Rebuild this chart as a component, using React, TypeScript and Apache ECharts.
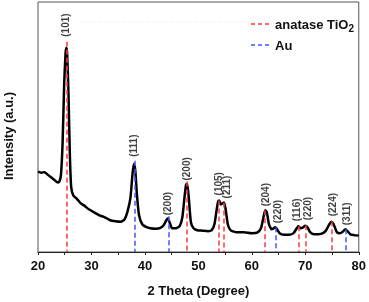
import React, { useEffect, useRef } from "react";
import * as echarts from "echarts";

// XRD pattern: [2θ, intensity (a.u.)]
const pattern: [number, number][] = [
  [20.0, 81], [20.6, 80], [21.2, 80.5], [21.8, 78], [22.5, 75], [23.2, 72], [23.7, 70],
  [24.0, 71], [24.3, 78], [24.6, 110], [24.9, 170], [25.15, 200], [25.3, 206], [25.45, 200],
  [25.7, 160], [25.95, 100], [26.2, 66], [26.6, 57], [27.2, 54], [28.0, 49], [28.6, 47],
  [29.5, 43], [30.5, 40], [31.5, 37], [32.5, 35], [33.5, 32], [34.5, 31], [35.5, 30.5],
  [36.2, 33], [36.8, 42], [37.3, 55], [37.7, 80], [37.95, 89], [38.2, 82], [38.5, 58],
  [38.9, 37], [39.5, 28], [40.3, 25], [41.0, 24], [42.0, 23.5], [42.8, 24], [43.5, 27],
  [44.0, 32], [44.3, 34], [44.6, 30], [45.1, 24], [45.8, 24], [46.5, 26], [47.0, 35],
  [47.4, 55], [47.7, 68], [47.9, 69], [48.2, 55], [48.6, 30], [49.1, 24], [49.8, 22],
  [50.8, 21.5], [51.8, 21], [52.5, 22], [53.0, 28], [53.4, 42], [53.7, 51], [53.9, 52],
  [54.2, 48], [54.5, 49], [54.8, 50], [55.1, 43], [55.5, 28], [56.0, 22], [57.0, 20],
  [58.5, 20], [60.0, 19], [61.0, 19.5], [61.7, 24], [62.1, 33], [62.5, 42], [62.8, 40],
  [63.2, 28], [63.7, 23], [64.0, 23.5], [64.4, 25], [64.7, 23], [65.2, 19], [66.0, 17.5],
  [67.0, 17.5], [67.8, 19], [68.4, 24], [68.7, 26], [69.1, 24], [69.5, 24.5], [70.0, 26.5],
  [70.4, 25], [70.9, 20], [71.6, 18], [72.5, 18], [73.3, 19], [73.9, 22], [74.5, 28],
  [74.9, 30.5], [75.3, 28], [75.9, 20], [76.5, 19], [77.1, 21], [77.5, 23], [77.9, 21],
  [78.5, 17.5], [79.2, 17], [80.0, 16.5],
];

// reference peak positions: [2θ, top of dashed line]
const anatasePeaks: [number, number][] = [
  [25.3, 212], [47.9, 71], [53.8, 52], [54.8, 50], [62.5, 42], [68.8, 26], [70.0, 27], [75.0, 31],
];
const auPeaks: [number, number][] = [
  [38.1, 92], [44.4, 36], [64.5, 25], [77.5, 23],
];

// Miller index labels: [2θ, label base intensity, text]
const hklLabels: [number, number, string][] = [
  [25.2, 217, "(101)"], [37.94, 96, "(111)"], [44.28, 37, "(200)"], [47.82, 72, "(200)"],
  [53.72, 57, "(105)"], [55.35, 54, "(211)"], [62.48, 46, "(204)"], [64.77, 29, "(220)"],
  [68.39, 31, "(116)"], [70.37, 32, "(220)"], [75.02, 36, "(224)"], [77.63, 27, "(311)"],
];

const xTicks = [20, 30, 40, 50, 60, 70, 80];

const RED = "#ff3b3b";
const BLUE = "#3b5bff";

export default function App() {
  const ref = useRef<HTMLDivElement>(null);
  useEffect(() => {
    if (!ref.current) return;
    const chart = echarts.init(ref.current, null, { renderer: "svg" });
    const dashLines = (peaks: [number, number][]) =>
      peaks.map(([x, top]) => [{ coord: [x, top] }, { coord: [x, 0] }]);
    chart.setOption({
      animation: false,
      grid: {
        left: 38, right: 9, top: 2, bottom: 48,
        show: true, borderColor: "#555", borderWidth: 1, backgroundColor: "transparent",
      },
      xAxis: {
        type: "value",
        min: xTicks[0],
        max: xTicks[xTicks.length - 1],
        interval: 10,
        name: "2 Theta (Degree)",
        nameLocation: "middle",
        nameGap: 32,
        nameTextStyle: { fontFamily: "Liberation Sans", fontWeight: "bold", fontSize: 13, color: "#111" },
        axisLine: { show: true, lineStyle: { color: "#222", width: 1 } },
        axisTick: { show: true, inside: false, length: 3, lineStyle: { color: "#222" } },
        minorTick: { show: true, splitNumber: 2, length: 3, lineStyle: { color: "#222" } },
        axisLabel: { fontFamily: "Liberation Sans", fontWeight: "bold", fontSize: 13, color: "#111", margin: 7 },
        splitLine: { show: false },
      },
      yAxis: {
        type: "value",
        min: 0,
        max: 252,
        axisLine: { show: false },
        axisTick: { show: false },
        axisLabel: { show: false },
        splitLine: { show: false },
      },
      series: [
        {
          type: "line",
          data: pattern,
          showSymbol: false,
          smooth: 0.2,
          lineStyle: { color: "#000", width: 2.5 },
          z: 3,
        },
        {
          type: "line",
          data: [],
          markLine: {
            silent: true,
            symbol: "none",
            label: { show: false },
            lineStyle: { color: RED, type: [5, 3], width: 1.5 },
            data: dashLines(anatasePeaks),
          },
          z: 2,
        },
        {
          type: "line",
          data: [],
          markLine: {
            silent: true,
            symbol: "none",
            label: { show: false },
            lineStyle: { color: BLUE, type: [5, 3], width: 1.5 },
            data: dashLines(auPeaks),
          },
          z: 2,
        },
        {
          type: "scatter",
          data: hklLabels.map(([x, y, t]) => ({ value: [x, y], name: t })),
          symbolSize: 0,
          silent: true,
          label: {
            show: true,
            formatter: (p: any) => p.name,
            position: [0, 0],
            rotate: 90,
            align: "left",
            verticalAlign: "middle",
            fontFamily: "Liberation Sans",
            fontWeight: "bold",
            fontSize: 10,
            color: "#111",
          },
          z: 4,
        },
      ],
      graphic: [
        {
          type: "line",
          shape: { x1: 83, y1: 22, x2: 248, y2: 22 },
          style: { stroke: "#e2e2e2", lineWidth: 1, lineDash: [1, 2] },
        },
        {
          type: "line",
          shape: { x1: 251, y1: 24, x2: 272, y2: 24 },
          style: { stroke: RED, lineWidth: 1.5, lineDash: [4, 3] },
        },
        {
          type: "line",
          shape: { x1: 251, y1: 45, x2: 272, y2: 45 },
          style: { stroke: BLUE, lineWidth: 1.5, lineDash: [4, 3] },
        },
        {
          type: "text",
          x: 275,
          y: 24,
          style: {
            text: "{a|anatase TiO}{s|2}",
            verticalAlign: "middle",
            rich: {
              a: { fontFamily: "Liberation Sans", fontWeight: "bold", fontSize: 13, fill: "#111" },
              s: { fontFamily: "Liberation Sans", fontWeight: "bold", fontSize: 10, fill: "#111", padding: [8, 0, 0, 0] },
            },
          },
        },
        {
          type: "text",
          x: 275,
          y: 45,
          style: {
            text: "Au",
            verticalAlign: "middle",
            fontFamily: "Liberation Sans", fontWeight: "bold", fontSize: 13, fill: "#111",
          },
        },
        {
          type: "text",
          x: 8,
          y: 136,
          rotation: Math.PI / 2,
          style: {
            text: "Intensity (a.u.)",
            align: "center",
            verticalAlign: "middle",
            fontFamily: "Liberation Sans", fontWeight: "bold", fontSize: 13, fill: "#111",
          },
        },
      ],
    });
    return () => chart.dispose();
  }, []);
  return <div ref={ref} style={{ position: "fixed", left: 0, top: 0, width: 369, height: 302 }} />;
}
